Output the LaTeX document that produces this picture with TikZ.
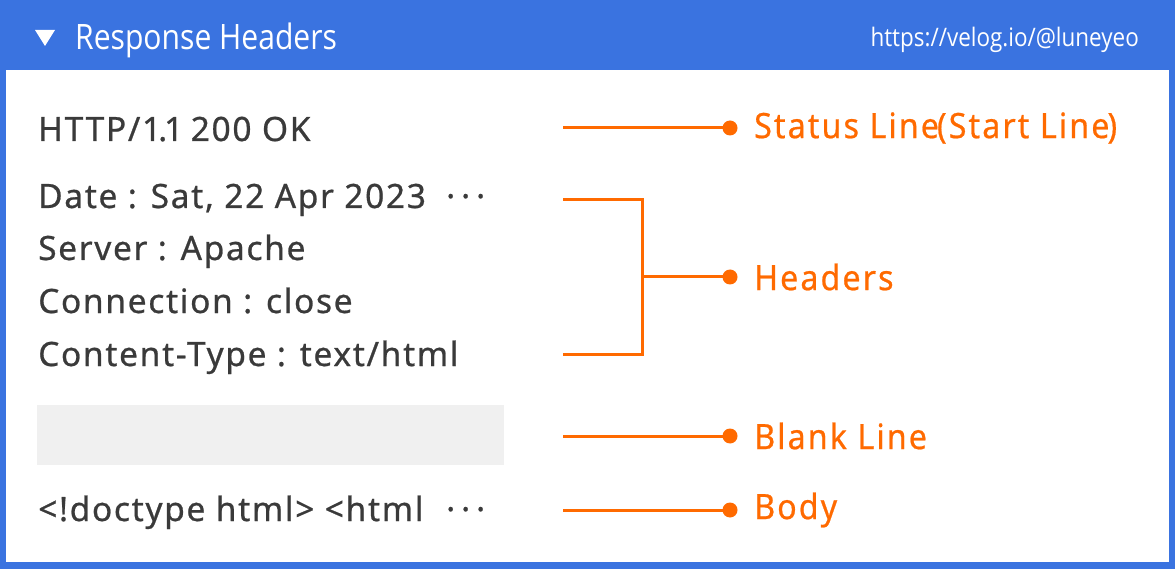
\documentclass[tikz,border=0pt]{standalone}
\usepackage{fontspec}
\setmainfont{Noto Sans}
\newfontfamily\hdrfont[FakeStretch=0.86]{Open Sans}
\newfontfamily\urlfont[FakeStretch=0.88]{Open Sans}
\newfontfamily\bodyfont[LetterSpace=5, FakeBold=0.7]{Noto Sans}
\newfontfamily\lblfont[FakeStretch=0.92, LetterSpace=6, FakeBold=0.6]{Noto Sans}
\definecolor{hblue}{HTML}{3A73E0}
\definecolor{lorange}{HTML}{FF6A00}
\definecolor{tgray}{HTML}{3A3A3A}
\definecolor{blankgray}{HTML}{F0F0F0}
\tikzset{
  body/.style={anchor=base west, inner sep=0pt, text=tgray, font=\bodyfont\fontsize{33.5}{40}\selectfont},
  lbl/.style={anchor=west, inner sep=0pt, text=lorange, font=\lblfont\fontsize{35}{40}\selectfont},
  dotnode/.style={circle, fill=lorange, draw=none, minimum size=15pt, inner sep=0pt},
  conn/.style={draw=lorange, line width=3pt},
}
\begin{document}
\begin{tikzpicture}[x=1pt,y=-1pt]
\useasboundingbox (0,0) rectangle (1175,569);
% frame
\fill[hblue] (0,0) rectangle (1175,569);
\fill[white] (6,70) rectangle (1169,562);
% header
\fill[white] (35,30) -- (55,30) -- (45,46) -- cycle;
\node[anchor=base west, inner sep=0pt, text=white, font=\hdrfont\fontsize{35}{40}\selectfont] (title) at (75,50) {Response Headers};
\node[anchor=base east, inner sep=0pt, text=white, font=\urlfont\fontsize{25.5}{30}\selectfont] (url) at (1139,47) {https://velog.io/@luneyeo};
% message lines
\node[body] (status) at (38,141) {HTTP/1\kern-3pt.\kern-3pt1\kern-3pt{} 200 OK};
\node[body] (date) at (38,208) {Date : Sat, 22 Apr 2023};
\node[body] (dots1) at (446,208) {·\hspace{6pt}·\hspace{6pt}·};
\node[body] (server) at (38,260) {Server : Apache};
\node[body] (conn) at (38,313) {Connection : close};
\node[body] (ctype) at (38,366) {Content-Type : text/html};
\node[fill=blankgray, draw=none, inner sep=0pt, anchor=north west, minimum width=467pt, minimum height=60pt] (blank) at (37,405) {};
\node[body] (bodytext) at (38,521) {<!doctype html> <html};
\node[body] (dots2) at (446,521) {·\hspace{6pt}·\hspace{6pt}·};
% connectors
\coordinate (s1) at (563,128);
\coordinate (hTop) at (563,200);
\coordinate (hBot) at (563,354);
\coordinate (hCorner1) at (642,200);
\coordinate (hCorner2) at (642,354);
\coordinate (hMid) at (642,277);
\coordinate (s3) at (563,436);
\coordinate (s4) at (563,510);
\node[dotnode] (d1) at (730,128) {};
\node[dotnode] (d2) at (730,277) {};
\node[dotnode] (d3) at (730,436) {};
\node[dotnode] (d4) at (730,510) {};
\draw[conn] (s1) -- (d1.center);
\draw[conn] (hTop) -- (hCorner1) -- (hCorner2) -- (hBot);
\draw[conn] (hMid) -- (d2.center);
\draw[conn] (s3) -- (d3.center);
\draw[conn] (s4) -- (d4.center);
\node[lbl] (l1) at (754,128) {Status Line\kern-2pt(Start Line\kern-2pt)};
\node[lbl] (l2) at (754,277) {Headers};
\node[lbl] (l3) at (754,436) {Blank Line};
\node[lbl] (l4) at (754,510) {Body};
\end{tikzpicture}
\end{document}
